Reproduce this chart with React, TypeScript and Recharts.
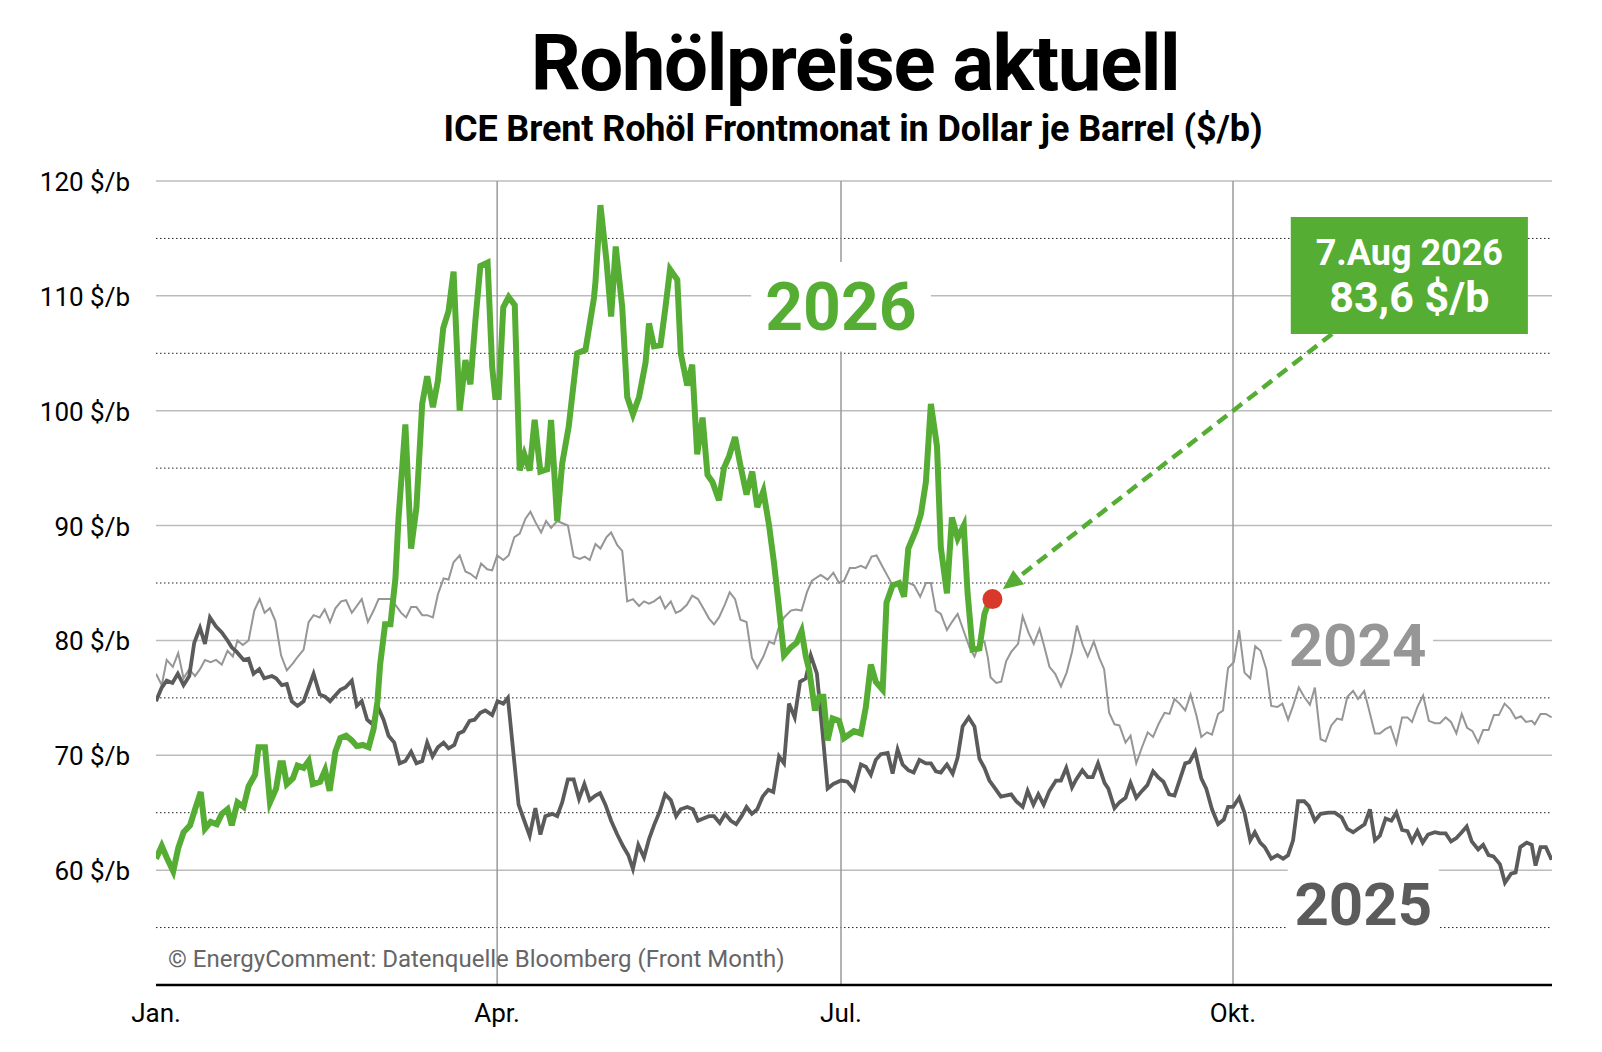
import React from "react"
import {
  Line,
  LineChart,
  ReferenceArea,
  ReferenceDot,
  ReferenceLine,
  XAxis,
  YAxis,
} from "recharts"

// x = Tag im Jahr (0 = 1. Jan.), y = $/b
const quarterTicks = [0, 89.2, 179.1, 281.6]
const quarterLabels = ["Jan.", "Apr.", "Jul.", "Okt."]
const priceTicks = [60, 70, 80, 90, 100, 110, 120]
const halfTicks = [55, 65, 75, 85, 95, 105, 115]

const brent2024: [number, number][] = [
  [0, 77.1], [1.5, 76.1], [2.8, 78.3], [4.4, 77.7], [5.8, 78.9], [7.2, 76.7], [8.7, 77.5], [10.2, 76.9],
  [11.5, 77.5], [12.8, 78.3], [14.3, 78.1], [15.7, 78.3], [17.2, 77.9], [18.7, 79.1], [20.1, 78.6], [21.3, 80.0],
  [22.7, 79.6], [24.2, 80.0], [25.7, 82.6], [27.1, 83.6], [28.4, 82.4], [29.8, 82.8], [31.2, 81.7], [32.7, 78.7],
  [34.2, 77.4], [35.8, 78.0], [37.1, 78.6], [38.6, 79.2], [39.9, 81.6], [41.2, 82.2], [42.8, 82.0], [44.1, 82.7],
  [45.5, 81.6], [46.9, 82.8], [48.4, 83.4], [49.7, 83.5], [51.2, 82.4], [52.5, 83.0], [53.8, 83.6], [55.4, 81.6],
  [56.9, 82.6], [58.2, 83.6], [59.9, 83.6], [61.3, 83.6], [62.6, 83.1], [64.1, 82.4], [65.4, 82.0], [66.7, 82.9],
  [68.1, 82.9], [69.6, 82.2], [70.9, 82.2], [72.4, 82.0], [73.7, 84.0], [75.2, 85.4], [76.5, 85.3], [77.8, 86.8],
  [79.4, 87.4], [80.9, 86.0], [82.2, 85.8], [83.7, 85.4], [85.0, 86.7], [86.6, 86.2], [87.9, 86.1], [89.2, 87.4],
  [90.8, 87.0], [92.2, 87.4], [93.7, 89.0], [95.1, 89.3], [96.6, 90.6], [97.9, 91.2], [99.2, 90.3], [100.7, 89.4],
  [102.0, 90.4], [103.3, 89.8], [104.9, 90.4], [107.7, 90.0], [109.2, 87.3], [110.8, 87.1], [112.1, 87.3], [113.4, 87.0],
  [114.9, 88.4], [116.2, 88.0], [117.8, 89.0], [119.0, 89.4], [120.6, 88.3], [121.9, 87.8], [123.2, 83.4], [124.7, 83.6],
  [126.3, 83.0], [127.6, 83.4], [128.9, 83.2], [130.2, 83.4], [131.8, 83.8], [133.1, 82.8], [134.6, 83.4], [135.9, 82.4],
  [137.2, 82.6], [138.8, 83.1], [140.2, 83.9], [141.7, 83.6], [143.1, 82.8], [144.6, 81.9], [145.9, 81.4], [147.2, 82.0],
  [148.7, 83.1], [150.0, 84.2], [151.4, 83.6], [152.8, 81.8], [154.4, 81.6], [155.8, 78.5], [157.2, 77.6], [158.8, 78.6],
  [160.3, 79.9], [161.6, 79.7], [162.7, 81.0], [164.2, 82.0], [166.0, 82.6], [167.3, 82.7], [168.8, 82.6], [170.2, 84.2],
  [171.5, 85.2], [173.8, 85.7], [175.6, 85.3], [177.1, 85.9], [178.6, 85.0], [179.9, 85.2], [181.4, 86.3], [182.8, 86.3],
  [184.3, 86.5], [185.6, 86.3], [187.1, 87.3], [188.4, 87.4], [190.0, 86.4], [191.3, 85.6], [192.6, 84.8], [194.3, 85.0],
  [195.6, 85.0], [196.9, 85.0], [198.2, 84.8], [199.8, 83.8], [201.3, 85.0], [202.6, 85.0], [203.9, 82.6], [205.2, 82.3],
  [206.8, 80.9], [208.1, 81.6], [209.6, 82.3], [211.2, 80.8], [212.7, 79.4], [214.0, 78.6], [215.3, 79.8], [216.6, 79.9],
  [217.5, 78.5], [218.2, 76.8], [219.7, 76.3], [221.0, 76.4], [222.3, 78.2], [223.6, 79.0], [225.4, 79.7], [226.6, 82.1],
  [228.1, 80.7], [229.5, 79.7], [231.0, 81.0], [232.3, 79.4], [233.6, 77.7], [235.1, 77.1], [236.6, 76.0], [238.1, 77.2],
  [239.5, 79.0], [240.8, 81.3], [242.3, 79.6], [243.6, 78.6], [245.2, 79.9], [246.6, 78.5], [247.9, 77.5], [249.2, 73.7],
  [250.6, 72.7], [251.9, 72.6], [253.5, 71.1], [254.8, 71.7], [256.3, 69.3], [257.8, 70.7], [259.3, 72.0], [260.7, 71.6],
  [262.1, 72.7], [263.7, 73.7], [265.0, 73.6], [266.3, 74.9], [267.6, 74.5], [269.1, 73.9], [270.5, 75.3], [272.0, 73.5],
  [273.3, 71.6], [274.8, 72.0], [276.1, 71.8], [277.7, 73.6], [279.0, 73.9], [280.3, 77.6], [281.8, 78.1], [283.2, 80.9],
  [284.6, 77.2], [286.1, 76.7], [287.4, 79.5], [288.8, 79.1], [290.3, 77.5], [291.6, 74.3], [293.2, 74.2], [294.5, 74.5],
  [296.0, 73.1], [297.3, 74.3], [298.8, 75.9], [300.2, 75.1], [301.7, 74.4], [303.0, 75.9], [304.5, 71.4], [305.8, 71.2],
  [307.3, 72.6], [308.8, 73.2], [310.1, 73.1], [311.5, 75.1], [313.0, 75.6], [314.3, 74.9], [315.9, 75.6], [317.2, 73.9],
  [318.7, 71.9], [320.0, 71.9], [321.5, 72.3], [322.8, 72.5], [324.3, 71.0], [325.8, 73.3], [327.2, 73.3], [328.4, 72.9],
  [329.8, 74.2], [331.3, 75.2], [332.8, 73.0], [334.4, 72.8], [335.7, 72.8], [337.2, 73.3], [338.6, 72.9], [340.0, 71.9],
  [341.4, 73.6], [342.8, 72.4], [344.2, 72.1], [345.7, 71.1], [347.0, 72.2], [348.4, 72.2], [349.8, 73.5], [351.1, 73.5],
  [352.6, 74.5], [354.1, 74.0], [355.5, 73.2], [356.9, 73.4], [358.2, 72.9], [359.7, 73.0], [360.5, 72.7], [362.0, 73.6],
  [363.4, 73.6], [364.9, 73.3],
]

const brent2025: [number, number][] = [
  [0, 74.7], [1.5, 75.9], [2.8, 76.5], [4.3, 76.3], [5.7, 77.1], [7.2, 76.1], [8.7, 76.9], [10.0, 79.8],
  [11.5, 81.1], [12.8, 79.7], [14.1, 82.0], [15.7, 81.2], [17.2, 80.7], [18.7, 80.0], [19.8, 79.4], [21.1, 79.0],
  [22.9, 78.3], [24.2, 78.4], [25.5, 77.1], [27.0, 77.5], [28.3, 76.7], [30.3, 76.9], [31.4, 76.7], [32.9, 76.1],
  [34.2, 76.2], [35.5, 74.7], [37.0, 74.3], [38.6, 74.7], [39.9, 75.9], [41.2, 77.1], [42.8, 75.3], [44.2, 75.1],
  [45.5, 74.7], [48.2, 75.7], [49.5, 75.9], [51.2, 76.5], [52.5, 74.3], [53.8, 74.7], [55.2, 73.1], [56.6, 72.7],
  [57.9, 74.3], [59.5, 73.1], [60.8, 71.7], [62.3, 71.1], [63.7, 69.3], [65.2, 69.5], [66.7, 70.3], [68.1, 69.3],
  [69.6, 69.5], [70.9, 71.1], [72.3, 69.9], [73.7, 70.7], [75.2, 71.1], [76.5, 70.6], [78.0, 70.9], [79.1, 71.9],
  [80.4, 72.1], [82.0, 73.0], [83.3, 73.1], [84.8, 73.7], [86.1, 73.9], [87.9, 73.5], [89.3, 74.7], [90.8, 74.5],
  [92.0, 75.0], [93.3, 70.7], [94.8, 65.7], [96.3, 64.3], [97.7, 63.0], [99.2, 65.4], [100.5, 63.1], [101.8, 64.7],
  [103.6, 64.9], [104.9, 64.7], [106.2, 65.9], [107.7, 67.9], [109.2, 67.9], [110.6, 66.2], [112.0, 67.5], [113.4, 66.1],
  [114.9, 66.5], [116.1, 66.7], [117.5, 65.7], [119.0, 64.3], [120.6, 63.1], [122.1, 62.1], [123.5, 61.3], [124.7, 60.1],
  [126.1, 62.2], [127.6, 61.1], [128.9, 62.7], [130.2, 63.9], [131.7, 65.1], [133.1, 66.6], [134.6, 66.1], [136.0, 64.7],
  [137.2, 65.3], [138.9, 65.5], [140.4, 65.3], [141.7, 64.3], [143.1, 64.5], [144.6, 64.7], [145.9, 64.7], [147.4, 64.1],
  [148.8, 64.9], [150.3, 64.3], [151.7, 64.0], [153.1, 64.7], [154.4, 65.5], [155.8, 64.9], [157.2, 65.3], [158.6, 66.4],
  [160.1, 67.0], [161.4, 66.8], [162.9, 69.9], [164.2, 69.3], [165.5, 74.5], [167.0, 73.3], [168.4, 76.4], [169.9, 76.7],
  [171.2, 78.7], [172.8, 77.1], [174.3, 71.9], [175.6, 67.1], [177.1, 67.5], [179.1, 67.8], [180.8, 67.7], [182.5, 67.0],
  [184.3, 69.2], [185.6, 69.0], [186.9, 68.3], [188.2, 69.6], [189.5, 70.1], [191.3, 70.2], [192.6, 68.4], [193.9, 70.5],
  [195.2, 69.2], [196.7, 68.7], [198.1, 68.5], [199.6, 69.6], [201.3, 69.3], [202.6, 69.3], [203.9, 68.6], [205.2, 68.5],
  [206.8, 69.2], [208.3, 68.4], [209.6, 69.8], [210.9, 72.5], [212.5, 73.3], [214.0, 72.5], [215.3, 69.7], [216.6, 68.9],
  [217.9, 67.8], [219.2, 67.2], [220.9, 66.4], [223.6, 66.6], [224.9, 66.0], [226.6, 65.5], [227.9, 66.9], [229.4, 65.7],
  [230.7, 66.6], [232.1, 65.7], [233.6, 66.9], [235.3, 67.8], [236.6, 67.8], [238.0, 68.9], [239.5, 67.2], [240.6, 67.9],
  [242.2, 68.7], [243.6, 68.1], [244.9, 68.1], [246.3, 69.3], [248.0, 67.6], [249.0, 67.1], [250.6, 65.4], [251.9, 65.9],
  [253.5, 66.3], [254.8, 67.6], [256.3, 66.3], [257.8, 66.9], [259.2, 67.4], [260.7, 68.6], [262.0, 68.1], [263.4, 67.7],
  [264.9, 66.6], [266.3, 66.5], [267.6, 67.8], [269.1, 69.3], [270.2, 69.4], [271.7, 70.3], [273.3, 68.0], [274.6, 67.1],
  [276.1, 65.3], [277.7, 64.0], [279.2, 64.4], [280.3, 65.5], [281.6, 65.5], [283.2, 66.3], [284.6, 65.0], [286.1, 62.6],
  [287.3, 63.3], [288.7, 62.4], [289.9, 62.0], [291.6, 61.0], [293.2, 61.3], [294.7, 61.0], [296.0, 61.3], [297.3, 62.6],
  [298.6, 66.0], [300.2, 66.0], [301.4, 65.6], [303.0, 64.3], [304.5, 64.9], [306.5, 65.0], [308.2, 65.0], [310.0, 64.6],
  [311.5, 63.6], [313.0, 63.3], [314.3, 63.6], [316.0, 64.0], [317.4, 65.3], [318.7, 62.6], [320.0, 63.0], [321.5, 64.5],
  [323.0, 64.3], [324.3, 65.0], [325.8, 63.5], [327.2, 63.4], [328.4, 62.5], [329.8, 63.4], [331.2, 62.4], [332.6, 63.1],
  [334.4, 63.3], [335.7, 63.2], [337.2, 63.2], [338.6, 62.5], [340.0, 62.8], [341.4, 63.3], [342.7, 63.8], [344.0, 62.5],
  [345.7, 61.8], [347.0, 62.2], [348.4, 61.3], [349.7, 61.2], [351.4, 60.5], [352.7, 58.9], [354.3, 59.7], [355.5, 59.8],
  [356.7, 62.0], [358.4, 62.4], [359.7, 62.2], [360.7, 60.4], [362.0, 62.0], [363.4, 62.0], [364.9, 60.9],
]

const brent2026: [number, number][] = [
  [0, 61.0], [1.5, 62.1], [2.8, 61.1], [4.5, 59.9], [5.8, 61.9], [7.2, 63.3], [8.9, 63.9], [10.2, 65.3],
  [11.7, 66.8], [12.8, 63.6], [14.3, 64.2], [15.9, 64.0], [17.2, 64.9], [18.7, 65.3], [19.8, 63.9], [21.3, 65.9],
  [22.9, 65.5], [24.2, 67.3], [25.9, 68.3], [26.8, 70.7], [28.5, 70.7], [29.8, 65.9], [31.4, 67.1], [32.5, 69.3],
  [33.2, 69.3], [34.2, 67.5], [35.8, 68.0], [37.0, 69.1], [38.6, 68.9], [39.9, 69.5], [41.0, 67.5], [42.9, 67.7],
  [44.2, 68.7], [45.4, 66.9], [46.9, 70.3], [48.2, 71.5], [49.7, 71.7], [51.2, 71.3], [52.5, 70.8], [54.1, 70.9],
  [55.6, 70.7], [56.9, 72.3], [57.9, 74.7], [58.6, 77.9], [59.9, 81.4], [61.3, 81.4], [62.6, 85.4], [63.4, 90.6],
  [65.2, 98.8], [66.7, 88.0], [68.1, 91.6], [69.6, 100.6], [70.9, 103.0], [72.4, 100.3], [73.7, 102.6], [75.1, 107.2],
  [76.5, 108.7], [77.8, 112.1], [79.4, 100.0], [80.9, 104.4], [82.2, 102.3], [83.5, 107.8], [84.8, 112.6], [86.7, 112.9],
  [87.9, 103.8], [88.7, 101.2], [89.6, 101.2], [90.8, 109.0], [92.2, 109.9], [93.8, 109.2], [95.1, 94.8], [96.3, 96.2],
  [97.7, 94.8], [99.0, 99.2], [100.5, 94.7], [102.3, 94.9], [103.3, 99.2], [104.9, 90.4], [106.2, 95.4], [107.9, 98.6],
  [110.1, 105.0], [112.3, 105.3], [114.5, 109.8], [114.9, 111.2], [116.2, 117.9], [117.8, 113.0], [119.0, 108.2], [120.2, 114.3],
  [121.9, 109.0], [123.2, 101.2], [124.7, 99.7], [126.3, 101.2], [128.0, 104.2], [128.9, 107.6], [130.2, 105.6], [131.9, 105.7],
  [133.2, 109.0], [134.4, 112.3], [136.3, 111.4], [137.2, 105.0], [138.9, 102.2], [140.2, 104.0], [141.5, 96.2], [142.9, 99.4],
  [144.2, 94.4], [145.5, 93.8], [147.2, 92.2], [148.5, 95.0], [149.8, 96.0], [151.4, 97.7], [152.7, 95.4], [154.4, 92.7],
  [155.9, 94.7], [157.2, 91.6], [158.8, 93.0], [160.3, 90.0], [161.6, 86.7], [162.7, 83.4], [164.2, 78.7], [166.0, 79.4],
  [167.5, 79.8], [168.8, 80.8], [169.9, 78.6], [170.8, 77.4], [172.3, 73.9], [173.4, 75.1], [174.5, 75.1], [175.6, 71.3],
  [176.9, 73.2], [178.6, 73.0], [179.9, 71.5], [182.5, 72.1], [184.3, 71.9], [185.6, 74.2], [186.9, 77.9], [188.2, 76.4],
  [190.0, 75.7], [191.0, 83.3], [192.6, 84.8], [194.3, 85.0], [195.6, 83.8], [196.7, 88.0], [198.7, 89.6], [200.0, 91.0],
  [201.3, 93.8], [202.6, 100.6], [204.2, 96.9], [205.2, 88.1], [206.8, 84.1], [208.1, 90.7], [209.6, 88.9], [211.2, 90.0],
  [212.2, 84.1], [213.5, 79.2], [215.3, 79.3], [216.6, 82.3], [217.6, 83.2], [218.7, 83.6],
]

const GREEN = "#55ad33"
const GRAY24 = "#969696"
const GRAY25 = "#5b5b5b"
const FONT = "Roboto, 'Open Sans', sans-serif"

const toRows = (pairs: [number, number][]) => pairs.map(([d, v]) => ({ d, v }))
const last2026 = brent2026[brent2026.length - 1]

function XTick({ x, y, payload }: any) {
  const label = quarterLabels[quarterTicks.indexOf(payload.value)]
  return (
    <text x={x} y={y + 37} textAnchor="middle" fontSize={26} fontFamily={FONT} fill="#000">
      {label}
    </text>
  )
}

function YTick({ x, y, payload }: any) {
  return (
    <text x={x} y={y + 10} textAnchor="end" fontSize={26} fontFamily={FONT} fill="#000">
      {`${payload.value} $/b`}
    </text>
  )
}

function yearLabel(text: string, color: string, size: number) {
  return (props: any) => {
    const vb = props.viewBox
    return (
      <text
        x={vb.x + vb.width / 2}
        y={vb.y + vb.height / 2}
        dy="0.355em"
        textAnchor="middle"
        fontSize={size}
        fontWeight={700}
        fontFamily={FONT}
        fill={color}
      >
        {text}
      </text>
    )
  }
}

function calloutLabel(props: any) {
  const vb = props.viewBox
  const cx = vb.x + vb.width / 2
  return (
    <g fontFamily={FONT} fontWeight={700} fill="#fff" textAnchor="middle">
      <text x={cx} y={vb.y + 48} fontSize={36}>
        7.Aug 2026
      </text>
      <text x={cx} y={vb.y + 95} fontSize={43}>
        83,6 $/b
      </text>
    </g>
  )
}

function DashedArrow(props: any) {
  const { x1, y1, x2, y2 } = props
  const dx = x2 - x1
  const dy = y2 - y1
  const len = Math.hypot(dx, dy)
  const ux = dx / len
  const uy = dy / len
  const head = 20
  const half = 9
  const bx = x2 - ux * head
  const by = y2 - uy * head
  return (
    <g>
      <line x1={x1} y1={y1} x2={bx} y2={by} stroke={GREEN} strokeWidth={4.5} strokeDasharray="12 7" />
      <polygon
        points={`${x2},${y2} ${bx - uy * half},${by + ux * half} ${bx + uy * half},${by - ux * half}`}
        fill={GREEN}
      />
    </g>
  )
}

export default function App() {
  return (
    <div style={{ position: "absolute", left: 0, top: 0, width: 1602, height: 1052, background: "#fff" }}>
      <LineChart width={1602} height={1052} margin={{ top: 181, right: 50, bottom: 17, left: 36 }}>
        <XAxis
          type="number"
          dataKey="d"
          domain={[0, 365]}
          ticks={quarterTicks}
          interval={0}
          tickSize={0}
          tickMargin={0}
          tickLine={false}
          axisLine={{ stroke: "#000", strokeWidth: 2.5 }}
          height={50}
          tick={(p: any) => <XTick {...p} />}
          allowDataOverflow
        />
        <YAxis
          type="number"
          domain={[50, 120]}
          ticks={priceTicks}
          interval={0}
          tickSize={0}
          tickMargin={26}
          tickLine={false}
          axisLine={false}
          width={120}
          tick={(p: any) => <YTick {...p} />}
          allowDataOverflow
        />

        {priceTicks.map((v) => (
          <ReferenceLine key={`s${v}`} y={v} stroke="#bcbcbc" strokeWidth={1.5} zIndex={-100} />
        ))}
        {halfTicks.map((v) => (
          <ReferenceLine key={`h${v}`} y={v} stroke="#222" strokeWidth={1} strokeDasharray="1.5 2.5" zIndex={-100} />
        ))}
        {quarterTicks.slice(1).map((d) => (
          <ReferenceLine key={`q${d}`} x={d} stroke="#9a9a9a" strokeWidth={1.5} zIndex={-100} />
        ))}

        <ReferenceArea x1={155.6} x2={202.6} y1={105.15} y2={112.95} fill="#fff" fillOpacity={1} stroke="none" zIndex={-50} label={yearLabel("2026", GREEN, 66)} />
        <ReferenceArea x1={294.4} x2={333.9} y1={76.64} y2={82.65} fill="#fff" fillOpacity={1} stroke="none" zIndex={-50} label={yearLabel("2024", GRAY24, 60)} />
        <ReferenceArea x1={295.9} x2={335.4} y1={53.95} y2={60.21} fill="#fff" fillOpacity={1} stroke="none" zIndex={-50} label={yearLabel("2025", GRAY25, 60)} />

        <Line data={toRows(brent2024)} dataKey="v" type="linear" stroke={GRAY24} strokeWidth={2} dot={false} activeDot={false} isAnimationActive={false} />
        <Line data={toRows(brent2025)} dataKey="v" type="linear" stroke={GRAY25} strokeWidth={3.8} dot={false} activeDot={false} isAnimationActive={false} />
        <Line data={toRows(brent2026)} dataKey="v" type="linear" stroke={GREEN} strokeWidth={6} dot={false} activeDot={false} isAnimationActive={false} />

        <ReferenceArea x1={296.7} x2={358.7} y1={106.68} y2={116.87} fill={GREEN} fillOpacity={1} stroke="none" zIndex={450} label={calloutLabel} />
        <ReferenceLine
          segment={[
            { x: 307.5, y: 106.68 },
            { x: 221.4, y: 84.45 },
          ]}
          zIndex={460}
          shape={(p: any) => <DashedArrow {...p} />}
        />
        <ReferenceDot x={last2026[0]} y={last2026[1]} r={10} fill="#d9392b" stroke="none" zIndex={700} />
      </LineChart>

      <svg
        width={1602}
        height={1052}
        style={{ position: "absolute", left: 0, top: 0, pointerEvents: "none" }}
        fontFamily={FONT}
      >
        <text x={855} y={90} textAnchor="middle" fontSize={78} fontWeight={700} letterSpacing={-1.4} fill="#000">
          Rohölpreise aktuell
        </text>
        <text x={853} y={141} textAnchor="middle" fontSize={36} fontWeight={700} letterSpacing={-0.12} fill="#000">
          ICE Brent Rohöl Frontmonat in Dollar je Barrel ($/b)
        </text>
        <text x={168} y={967} fontSize={24} fill="#666">
          © EnergyComment: Datenquelle Bloomberg (Front Month)
        </text>
      </svg>
    </div>
  )
}
